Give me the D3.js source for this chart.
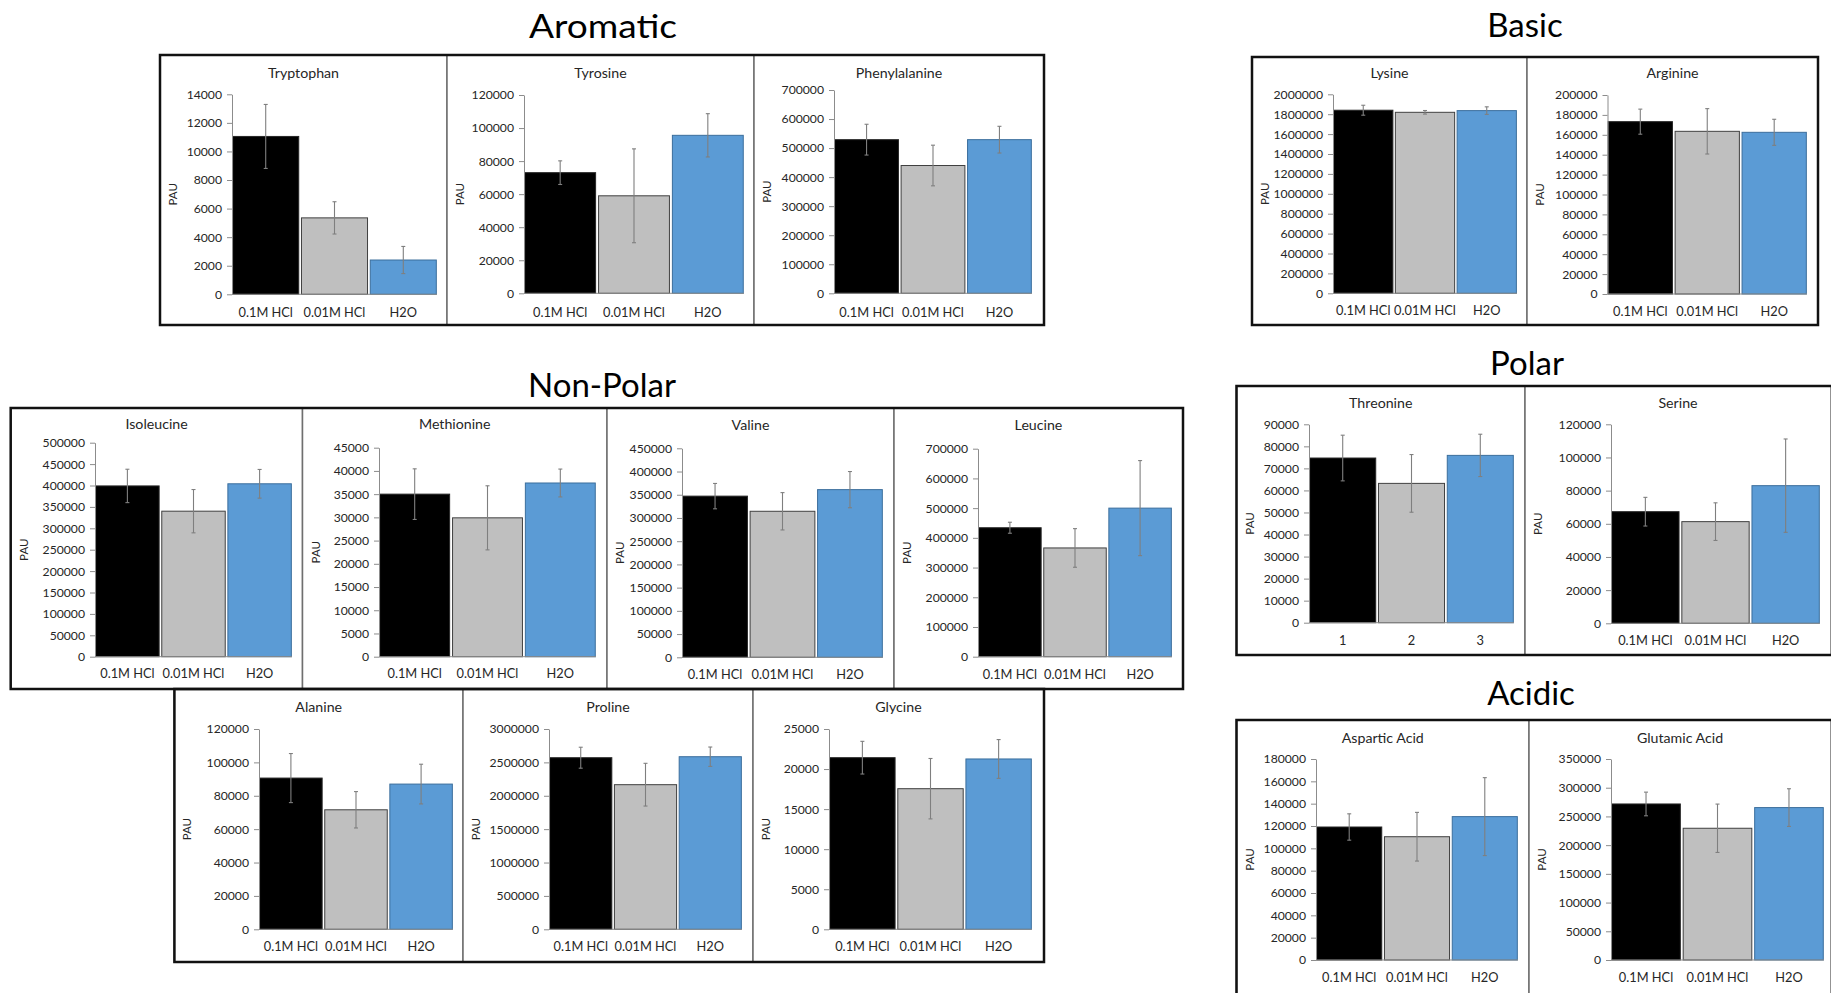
<!DOCTYPE html>
<html>
<head>
<meta charset="utf-8">
<script src="https://cdn.jsdelivr.net/npm/d3@7/dist/d3.min.js"></script>
<style>
  html, body { margin: 0; padding: 0; background: #fff; }
  svg { display: block; font-family: Lato, "Open Sans", sans-serif; }
</style>
</head>
<body>
<svg id="chart" width="1831" height="993"></svg>
<script>
// ---- data (peak area units, mean and error per extraction condition) ----
const conditions = ["0.1M HCl", "0.01M HCl", "H2O"];
const numberedConditions = ["1", "2", "3"];

const aminoAcids = ["Tryptophan", "Tyrosine", "Phenylalanine", "Lysine", "Arginine",
  "Isoleucine", "Methionine", "Valine", "Leucine", "Alanine", "Proline", "Glycine",
  "Threonine", "Serine", "Aspartic Acid", "Glutamic Acid"];

const meanPAU = [
  [11050, 5350, 2400],
  [73000, 59000, 95600],
  [529000, 440000, 529000],
  [1840000, 1819000, 1836000],
  [173200, 163500, 162500],
  [399000, 340000, 404000],
  [35000, 29900, 37400],
  [347000, 314400, 361000],
  [434000, 366000, 500000],
  [90600, 71600, 87000],
  [2570000, 2166000, 2585000],
  [21420, 17550, 21260],
  [74700, 63200, 75900],
  [67300, 61300, 83000],
  [119100, 110400, 128400],
  [271700, 229400, 265400]
];

const errorPAU = [
  [2240, 1130, 950],
  [7150, 28400, 13100],
  [53000, 70000, 46000],
  [50000, 18000, 38000],
  [12600, 22800, 13100],
  [39000, 50600, 33500],
  [5450, 6900, 3000],
  [27300, 40200, 39000],
  [18500, 65000, 160000],
  [14700, 10900, 11900],
  [157000, 320000, 145000],
  [2040, 3770, 2420],
  [10360, 13080, 9600],
  [8650, 11350, 28150],
  [11800, 21800, 34900],
  [20600, 42100, 32800]
];

const axisMax = [14000, 120000, 700000, 2000000, 200000, 500000, 45000, 450000,
  700000, 120000, 3000000, 25000, 90000, 120000, 180000, 350000];
const axisStep = [2000, 20000, 100000, 200000, 20000, 50000, 5000, 50000,
  100000, 20000, 500000, 5000, 10000, 20000, 20000, 50000];

const groupNames = ["Aromatic", "Basic", "Non-Polar", "Polar", "Acidic"];

// ---- layout: chart frame, plot area, title and label rows per panel ----
// frame: [x0, y0, x1, y1]; plot: [left, right, topTickY, zeroY]
const layout = [
  { frame: [160, 55, 447, 325],   plot: [232, 437, 94.3, 294.3],  titleY: 73,  labelY: 313 },
  { frame: [447, 55, 754, 325],   plot: [524, 744, 95, 293.3],    titleY: 73,  labelY: 313 },
  { frame: [754, 55, 1044, 325],  plot: [834, 1032, 90, 293.3],   titleY: 73,  labelY: 313 },
  { frame: [1252, 57, 1527, 325], plot: [1333, 1517, 94.3, 293.3], titleY: 73, labelY: 311 },
  { frame: [1527, 57, 1818, 325], plot: [1607.5, 1807, 95, 294],  titleY: 73,  labelY: 312 },
  { frame: [10.7, 408, 302.5, 689], plot: [95, 292, 442.7, 656.7], titleY: 424, labelY: 674 },
  { frame: [302.5, 408, 607, 689], plot: [379, 596, 447.7, 656.7], titleY: 424, labelY: 674 },
  { frame: [607, 408, 894, 689],  plot: [682, 883, 448.3, 657.3], titleY: 425, labelY: 675 },
  { frame: [894, 408, 1183, 689], plot: [978, 1172, 448.7, 656.7], titleY: 425, labelY: 675 },
  { frame: [174.4, 689, 463, 962], plot: [259, 453, 729, 929.3],  titleY: 707, labelY: 947 },
  { frame: [463, 689, 753, 962],  plot: [549, 742, 729, 929.3],   titleY: 707, labelY: 947 },
  { frame: [753, 689, 1044, 962], plot: [829, 1032, 729, 929.3],  titleY: 707, labelY: 947 },
  { frame: [1236.5, 386, 1525, 655], plot: [1309, 1514, 424.3, 622.7], titleY: 403, labelY: 641 },
  { frame: [1525, 386, 1831, 655], plot: [1611, 1820, 424.3, 623.3], titleY: 403, labelY: 641 },
  { frame: [1236.5, 720, 1529, 994], plot: [1316, 1518, 759, 960], titleY: 738, labelY: 978 },
  { frame: [1529, 720, 1831, 994], plot: [1611, 1824, 759, 960],  titleY: 738, labelY: 978 }
];

// heading position, heading width (null = natural) and outline boxes per group
const groupLayout = [
  { title: [603, 26],  width: 148,  boxes: [[160, 55, 1044, 325]] },
  { title: [1525, 25], width: null, boxes: [[1252, 57, 1818, 325]] },
  { title: [602, 385], width: null, boxes: [[10.7, 408, 1183, 689], [174.4, 689, 1044, 962]] },
  { title: [1527, 363], width: null, boxes: [[1236.5, 386, 1836, 655]] },
  { title: [1531, 693], width: null, boxes: [[1236.5, 720, 1836, 998]] }
];

const barFill = ["#000000", "#bfbfbf", "#5b9bd5"];
const barStroke = ["#262626", "#404040", "#3b6e9c"];
const textColor = "#262626";

const svg = d3.select("#chart");
svg.append("rect").attr("width", 1831).attr("height", 993).attr("fill", "#fff");

// ---- one bar chart per amino acid ----
aminoAcids.forEach((name, i) => {
  const L = layout[i];
  const [fx0, fy0, fx1, fy1] = L.frame;
  const [pl, pr, pt, pb] = L.plot;
  const labels = name === "Threonine" ? numberedConditions : conditions;
  const g = svg.append("g");

  // chart area border
  g.append("rect")
    .attr("x", fx0).attr("y", fy0)
    .attr("width", fx1 - fx0).attr("height", fy1 - fy0)
    .attr("fill", "#fff").attr("stroke", "#6f6f6f").attr("stroke-width", 1.5);

  const x = d3.scaleBand().domain(labels).range([pl, pr])
    .paddingInner(0.04).paddingOuter(0.01);
  const y = d3.scaleLinear().domain([0, axisMax[i]]).range([pb, pt]);

  // bars
  g.selectAll("rect.bar").data(meanPAU[i]).join("rect")
    .attr("class", "bar")
    .attr("x", (d, k) => x(labels[k]))
    .attr("width", x.bandwidth())
    .attr("y", d => y(d))
    .attr("height", d => y(0) - y(d))
    .attr("fill", (d, k) => barFill[k])
    .attr("stroke", (d, k) => barStroke[k])
    .attr("stroke-width", 1);

  // error bars
  const eg = g.selectAll("g.err").data(meanPAU[i]).join("g").attr("class", "err")
    .attr("stroke", "#7f7f7f").attr("stroke-width", 1.1);
  eg.each(function (d, k) {
    const cx = x(labels[k]) + x.bandwidth() / 2;
    const e = errorPAU[i][k];
    const s = d3.select(this);
    s.append("line").attr("x1", cx).attr("x2", cx).attr("y1", y(d + e)).attr("y2", y(d - e));
    s.append("line").attr("x1", cx - 2).attr("x2", cx + 2).attr("y1", y(d + e)).attr("y2", y(d + e));
    s.append("line").attr("x1", cx - 2).attr("x2", cx + 2).attr("y1", y(d - e)).attr("y2", y(d - e));
  });

  // y axis
  const ticks = d3.range(0, axisMax[i] + axisStep[i] / 2, axisStep[i]);
  const ya = g.append("g").attr("transform", `translate(${pl},0)`)
    .call(d3.axisLeft(y).tickValues(ticks).tickFormat(d3.format("d"))
      .tickSize(5).tickSizeOuter(0).tickPadding(5));
  ya.select(".domain").attr("stroke", "#8c8c8c");
  ya.selectAll(".tick line").attr("stroke", "#8c8c8c");
  ya.selectAll(".tick text").attr("fill", textColor).attr("font-size", 12.2)
    .attr("font-family", "Lato, sans-serif");

  // x axis baseline and category labels
  g.append("line").attr("x1", pl).attr("x2", pr).attr("y1", pb).attr("y2", pb)
    .attr("stroke", "#8c8c8c").attr("stroke-width", 1);
  g.selectAll("text.cat").data(labels).join("text")
    .attr("class", "cat")
    .attr("x", d => x(d) + x.bandwidth() / 2)
    .attr("y", L.labelY)
    .attr("dy", "0.35em")
    .attr("text-anchor", "middle")
    .attr("font-size", 12.8).attr("fill", textColor)
    .text(d => d);

  // axis title
  g.append("text")
    .attr("transform", `translate(${fx0 + 13},${(pt + pb) / 2}) rotate(-90)`)
    .attr("text-anchor", "middle").attr("dy", "0.35em")
    .attr("font-size", 11.5).attr("fill", textColor)
    .text("PAU");

  // chart title
  g.append("text")
    .attr("x", (fx0 + fx1) / 2).attr("y", L.titleY).attr("dy", "0.35em")
    .attr("text-anchor", "middle").attr("font-size", 14.2).attr("fill", textColor)
    .text(name);
});

// ---- group outlines and headings ----
groupNames.forEach((gname, j) => {
  const G = groupLayout[j];
  G.boxes.forEach(b => {
    svg.append("rect")
      .attr("x", b[0]).attr("y", b[1])
      .attr("width", b[2] - b[0]).attr("height", b[3] - b[1])
      .attr("fill", "none").attr("stroke", "#111").attr("stroke-width", 2.5);
  });
  const t = svg.append("text")
    .attr("x", G.title[0]).attr("y", G.title[1]).attr("dy", "0.35em")
    .attr("text-anchor", "middle").attr("font-size", 33).attr("fill", "#000")
    .text(gname);
  if (G.width) t.attr("textLength", G.width).attr("lengthAdjust", "spacingAndGlyphs");
});
</script>
</body>
</html>
